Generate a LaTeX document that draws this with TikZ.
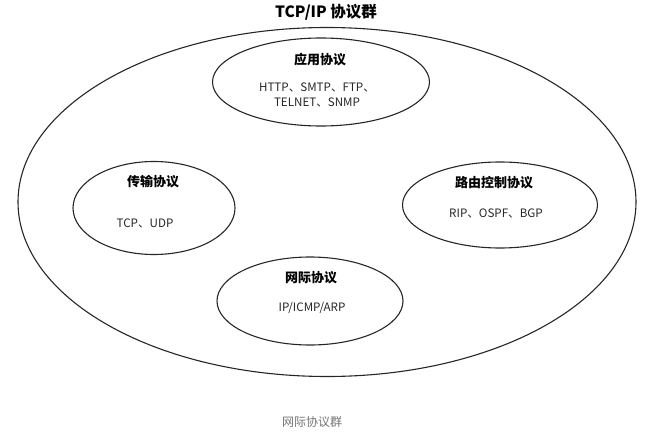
\documentclass[tikz,border=0pt]{standalone}
\usepackage{fontspec}
\setmainfont{Noto Sans CJK SC}
\usetikzlibrary{shapes.geometric}
\begin{document}
\begin{tikzpicture}[x=1pt,y=-1pt,
  oval/.style={draw=black!85,line width=1.1pt,ellipse,inner sep=0pt},
  head/.style={font=\bfseries\fontsize{13}{15}\selectfont,inner sep=0pt},
  body/.style={font=\fontsize{11.6}{14.5}\selectfont,inner sep=0pt,align=center,text=black!85},
]
\useasboundingbox (0,0) rectangle (646,436);
\node[oval,minimum width=618,minimum height=349] (all) at (327,202) {};
\node[font=\bfseries\fontsize{15.5}{17}\selectfont,inner sep=0pt] (title) at (326,12) {TCP/IP 协议群};
\node[oval,minimum width=217,minimum height=88] (app) at (321,82) {};
\node[head] (apph) at (320,60) {应用协议};
\node[body] (appb) at (317,95) {HTTP、SMTP、FTP、\\TELNET、SNMP};
\node[oval,minimum width=162,minimum height=93] (tr) at (154,208) {};
\node[head] (trh) at (153,182) {传输协议};
\node[body] (trb) at (145,223) {TCP、UDP};
\node[oval,minimum width=195,minimum height=86] (rt) at (500,205) {};
\node[head] (rth) at (494,183) {路由控制协议};
\node[body] (rtb) at (496,213) {RIP、OSPF、BGP};
\node[oval,minimum width=186,minimum height=88] (ip) at (310,301) {};
\node[head] (iph) at (311,278) {网际协议};
\node[body] (ipb) at (312,308) {IP/ICMP/ARP};
\node[font=\fontsize{12}{14}\selectfont,text=black!55,inner sep=0pt] (cap) at (312,422) {网际协议群};
\end{tikzpicture}
\end{document}
